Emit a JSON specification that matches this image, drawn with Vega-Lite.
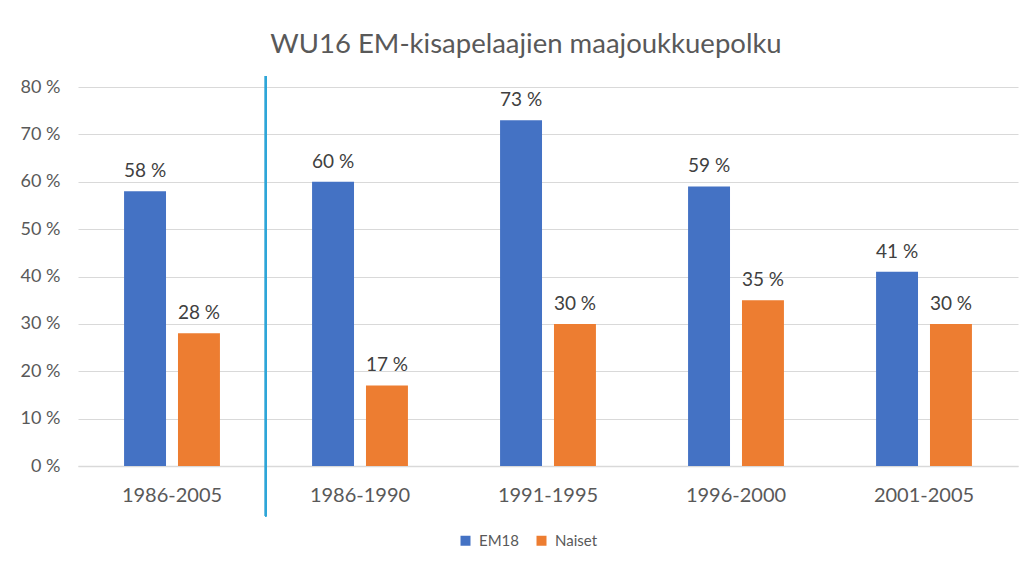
{
  "$schema": "https://vega.github.io/schema/vega-lite/v6.json",
  "width": 940,
  "height": 379,
  "autosize": {"type": "none"},
  "padding": {"left": 78, "top": 87, "right": 8, "bottom": 98},
  "background": "white",
  "title": {
    "text": "WU16 EM-kisapelaajien maajoukkuepolku",
    "font": "Lato",
    "fontSize": 27.5,
    "fontWeight": "normal",
    "color": "#595959",
    "anchor": "middle",
    "dx": -22,
    "offset": 17
  },
  "config": {
    "view": {"stroke": null},
    "font": "Lato"
  },
  "data": {
    "values": [
      {"period": "1986-2005", "series": "EM18", "value": 58, "label": "58 %"},
      {"period": "1986-2005", "series": "Naiset", "value": 28, "label": "28 %"},
      {"period": "1986-1990", "series": "EM18", "value": 60, "label": "60 %"},
      {"period": "1986-1990", "series": "Naiset", "value": 17, "label": "17 %"},
      {"period": "1991-1995", "series": "EM18", "value": 73, "label": "73 %"},
      {"period": "1991-1995", "series": "Naiset", "value": 30, "label": "30 %"},
      {"period": "1996-2000", "series": "EM18", "value": 59, "label": "59 %"},
      {"period": "1996-2000", "series": "Naiset", "value": 35, "label": "35 %"},
      {"period": "2001-2005", "series": "EM18", "value": 41, "label": "41 %"},
      {"period": "2001-2005", "series": "Naiset", "value": 30, "label": "30 %"}
    ]
  },
  "encoding": {
    "x": {
      "field": "period",
      "type": "nominal",
      "sort": null,
      "scale": {"paddingInner": 0.49, "paddingOuter": 0.245},
      "axis": {
        "title": null,
        "labelAngle": 0,
        "labelFontSize": 20,
        "labelColor": "#595959",
        "labelPadding": 19,
        "ticks": false,
        "domainColor": "#d9d9d9",
        "domainWidth": 1.5
      }
    }
  },
  "layer": [
    {
      "mark": {"type": "bar"},
      "encoding": {
        "xOffset": {"field": "series", "type": "nominal", "scale": {"paddingInner": 0.222, "paddingOuter": 0}},
        "y": {
          "field": "value",
          "type": "quantitative",
          "scale": {"domain": [0, 80]},
          "axis": {
            "title": null,
            "values": [0, 10, 20, 30, 40, 50, 60, 70, 80],
            "labelExpr": "datum.value + ' %'",
            "labelFontSize": 18,
            "labelColor": "#595959",
            "labelPadding": 18,
            "ticks": false,
            "domain": false,
            "gridColor": "#d9d9d9",
            "gridWidth": 1
          }
        },
        "color": {
          "field": "series",
          "type": "nominal",
          "scale": {"domain": ["EM18", "Naiset"], "range": ["#4472C4", "#ED7D31"]},
          "legend": {
            "title": null,
            "orient": "none",
            "legendX": 380,
            "legendY": 446,
            "direction": "horizontal",
            "symbolType": "square",
            "symbolSize": 100,
            "symbolStrokeWidth": 0,
            "labelFontSize": 15,
            "labelOffset": 6,
            "labelColor": "#595959",
            "columnPadding": 15
          }
        }
      }
    },
    {
      "mark": {"type": "text", "fontSize": 19, "color": "#404040", "dy": -14, "baseline": "alphabetic"},
      "encoding": {
        "xOffset": {"field": "series", "type": "nominal", "scale": {"paddingInner": 0.222, "paddingOuter": 0}},
        "y": {"field": "value", "type": "quantitative"},
        "text": {"field": "label"}
      }
    },
    {
      "mark": {"type": "rule", "color": "#2EA6D8", "strokeWidth": 1.5, "clip": false},
      "encoding": {
        "x": {"datum": "1986-1990", "bandPosition": -0.484},
        "y": {"datum": 82.3},
        "y2": {"datum": -10.6}
      }
    }
  ]
}
